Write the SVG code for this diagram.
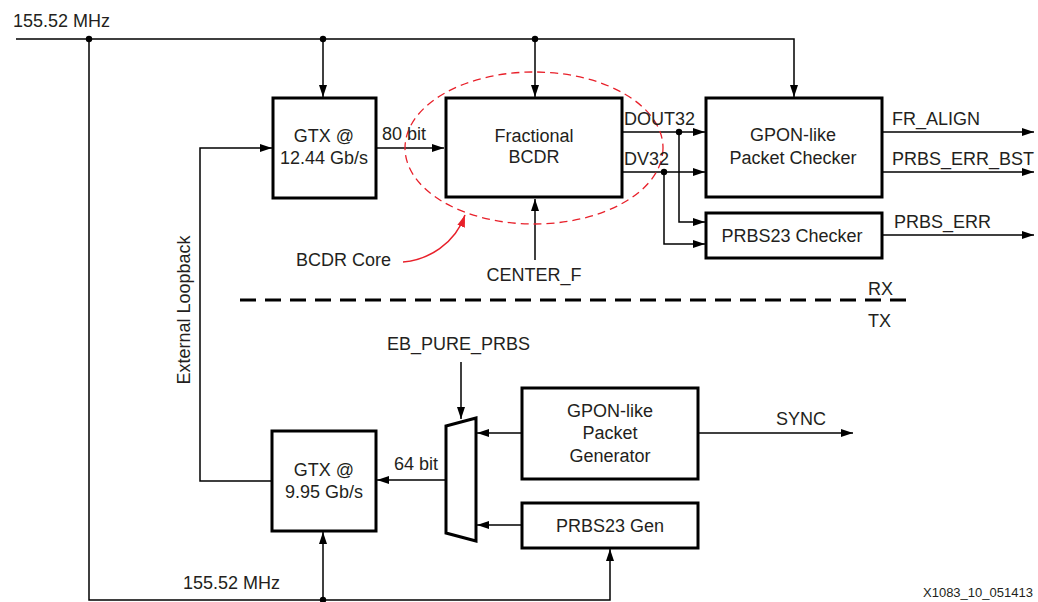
<svg xmlns="http://www.w3.org/2000/svg" width="1038" height="602" viewBox="0 0 1038 602">
<style>
text{font-family:"Liberation Sans",Arial,sans-serif;font-size:18px;fill:#231f20}
.c{text-anchor:middle}
.box{fill:#fff;stroke:#000;stroke-width:3}
.ln{fill:none;stroke:#000;stroke-width:1.5}
.ar{marker-end:url(#ah)}
.dot{fill:#000}
</style>
<defs>
<marker id="ah" viewBox="0 0 12 8" refX="12" refY="4" markerWidth="12" markerHeight="8" orient="auto" markerUnits="userSpaceOnUse"><path d="M0,0L12,4L0,8z" fill="#000"/></marker>
<marker id="ahr" viewBox="0 0 12 8" refX="12" refY="4" markerWidth="12" markerHeight="8" orient="auto" markerUnits="userSpaceOnUse"><path d="M0,0L12,4L0,8z" fill="#e8202a"/></marker>
</defs>
<rect width="1038" height="602" fill="#fff"/>
<g id="connectors">
<path class="ln" d="M16,39H794V97" marker-end="url(#ah)"/>
<path class="ln ar" d="M323,39V97"/>
<path class="ln ar" d="M535,39V97"/>
<path class="ln" d="M89,39V600H610V549" marker-end="url(#ah)"/>
<path class="ln ar" d="M323,600V532"/>
<path class="ln ar" d="M376,148H444"/>
<path class="ln ar" d="M535,260V199"/>
<path class="ln ar" d="M622,132H705"/>
<path class="ln ar" d="M622,172H705"/>
<path class="ln ar" d="M679,132V222H705"/>
<path class="ln ar" d="M664,172V244H705"/>
<path class="ln ar" d="M882,132H1034"/>
<path class="ln ar" d="M882,172H1034"/>
<path class="ln ar" d="M882,235H1034"/>
<path class="ln" d="M272,481H200V148H272" marker-end="url(#ah)"/>
<path class="ln ar" d="M446,480H377"/>
<path class="ln ar" d="M461,362V419"/>
<path class="ln ar" d="M522,433H477"/>
<path class="ln ar" d="M522,525H477"/>
<path class="ln ar" d="M698,433H853"/>
<path d="M240,300H912" stroke="#000" stroke-width="3" stroke-dasharray="16,9" fill="none"/>
<ellipse cx="534" cy="148" rx="129" ry="76" fill="none" stroke="#e8202a" stroke-width="1.3" stroke-dasharray="8,5"/>
<path d="M403,262C428,260 455,244 465,215" fill="none" stroke="#e8202a" stroke-width="1.5" marker-end="url(#ahr)"/>
<circle class="dot" cx="89" cy="39" r="3.2"/>
<circle class="dot" cx="323" cy="39" r="3.2"/>
<circle class="dot" cx="535" cy="39" r="3.2"/>
<circle class="dot" cx="679" cy="132" r="3.2"/>
<circle class="dot" cx="664" cy="172" r="3.2"/>
<circle class="dot" cx="323" cy="600" r="3.2"/>
</g>
<g id="gtx_rx"><rect class="box" x="273" y="98" width="103" height="100"/><text class="c" x="324" y="142">GTX @</text><text class="c" x="324" y="164">12.44 Gb/s</text></g>
<g id="bcdr"><rect class="box" x="446" y="98" width="176" height="99"/><text class="c" x="534" y="142">Fractional</text><text class="c" x="534" y="163">BCDR</text></g>
<g id="checker"><rect class="box" x="706" y="98" width="176" height="99"/><text class="c" x="793" y="141">GPON-like</text><text class="c" x="793" y="164">Packet Checker</text></g>
<g id="prbs_checker"><rect class="box" x="706" y="213" width="176" height="45"/><text class="c" x="792" y="242">PRBS23 Checker</text></g>
<g id="gtx_tx"><rect class="box" x="272" y="431" width="104" height="100"/><text class="c" x="324" y="476">GTX @</text><text class="c" x="324" y="498">9.95 Gb/s</text></g>
<g id="mux"><polygon points="446,426 476,418 476,541 446,533" fill="#fff" stroke="#000" stroke-width="3"/></g>
<g id="generator"><rect class="box" x="522" y="388" width="176" height="91"/><text class="c" x="610" y="417">GPON-like</text><text class="c" x="610" y="439">Packet</text><text class="c" x="610" y="462">Generator</text></g>
<g id="prbs_gen"><rect class="box" x="522" y="503" width="176" height="45"/><text class="c" x="610" y="532">PRBS23 Gen</text></g>
<g id="labels">
<text x="13" y="27">155.52 MHz</text>
<text x="183" y="589">155.52 MHz</text>
<text x="382" y="140">80 bit</text>
<text x="624" y="125">DOUT32</text>
<text x="624" y="165">DV32</text>
<text class="c" x="534" y="281">CENTER_F</text>
<text x="296" y="266">BCDR Core</text>
<text x="892" y="125">FR_ALIGN</text>
<text x="892" y="165">PRBS_ERR_BST</text>
<text x="894" y="228">PRBS_ERR</text>
<text x="868" y="295">RX</text>
<text x="868" y="327">TX</text>
<text x="387" y="350">EB_PURE_PRBS</text>
<text x="394" y="470">64 bit</text>
<text x="776" y="425">SYNC</text>
<text class="c" x="190" y="310" transform="rotate(-90 190 310)">External Loopback</text>
<text x="923" y="597" style="font-size:13px">X1083_10_051413</text>
</g>
</svg>
